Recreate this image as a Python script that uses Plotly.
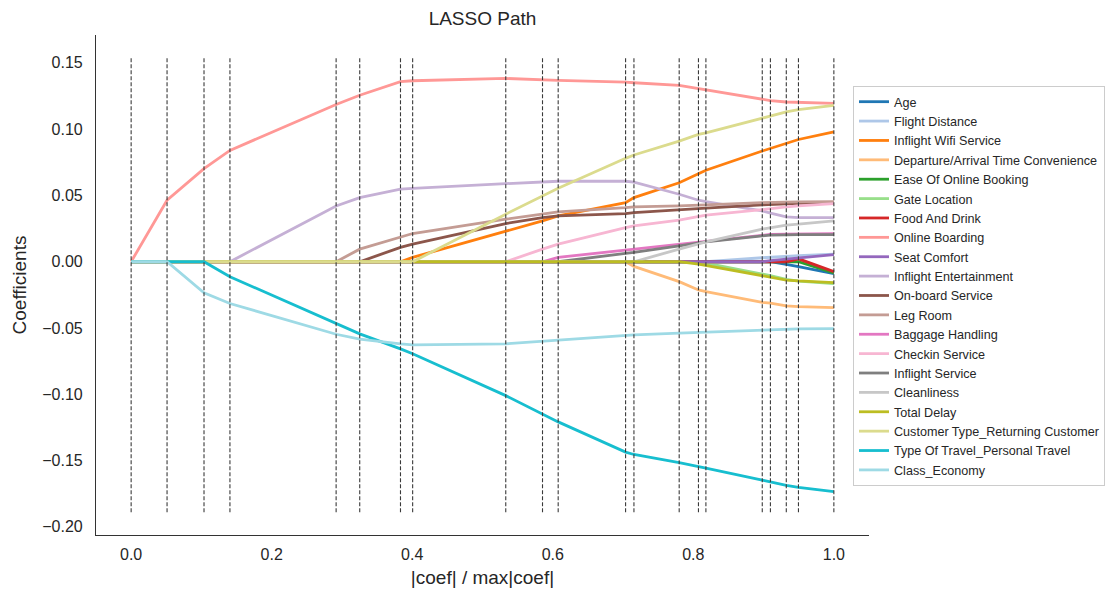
import plotly.graph_objects as go

# Breakpoints of the LARS-lasso path (|coef| / max|coef|)
alphas_x = [0.0, 0.0511, 0.1037, 0.1406, 0.2917, 0.3253, 0.3833, 0.4006, 0.5331, 0.5854, 0.6077,
            0.7036, 0.7155, 0.7799, 0.8073, 0.8179, 0.8981, 0.9097, 0.9323, 0.9496, 1.0]

features = ["Age", "Flight Distance", "Inflight Wifi Service", "Departure/Arrival Time Convenience",
            "Ease Of Online Booking", "Gate Location", "Food And Drink", "Online Boarding",
            "Seat Comfort", "Inflight Entertainment", "On-board Service", "Leg Room",
            "Baggage Handling", "Checkin Service", "Inflight Service", "Cleanliness",
            "Total Delay", "Customer Type_Returning Customer", "Type Of Travel_Personal Travel",
            "Class_Economy"]

age = [0, 0, 0, 0, 0, 0, 0, 0, 0, 0, 0, 0, 0, 0, 0, 0, 0, 0, -0.0020, -0.0036, -0.0090]
flight_distance = [0, 0, 0, 0, 0, 0, 0, 0, 0, 0, 0, 0, 0, 0, 0, 0, 0.0030, 0.0034, 0.0040, 0.0045, 0.0058]
inflight_wifi = [0, 0, 0, 0, 0, 0, 0, 0.0033, 0.0228, 0.0308, 0.0346, 0.0446, 0.0484, 0.0596, 0.0664,
                 0.0690, 0.0835, 0.0855, 0.0897, 0.0922, 0.0980]
dep_arr_time = [0, 0, 0, 0, 0, 0, 0, 0, 0, 0, 0, 0, -0.0035, -0.0150, -0.0213, -0.0226, -0.0306,
                -0.0313, -0.0333, -0.0338, -0.0346]
ease_online_booking = [0, 0, 0, 0, 0, 0, 0, 0, 0, 0, 0, 0, 0, 0, 0, 0, 0, 0, 0, 0, -0.0085]
gate_location = [0, 0, 0, 0, 0, 0, 0, 0, 0, 0, 0, 0, 0, 0, 0, -0.0010, -0.0092, -0.0105, -0.0133,
                 -0.0146, -0.0165]
food_drink = [0, 0, 0, 0, 0, 0, 0, 0, 0, 0, 0, 0, 0, 0, 0, 0, 0, 0, 0, 0.0022, -0.0075]
online_boarding = [0, 0.0464, 0.0702, 0.0840, 0.1186, 0.1256, 0.1358, 0.1365, 0.1383, 0.1372, 0.1368,
                   0.1355, 0.1350, 0.1330, 0.1306, 0.1296, 0.1223, 0.1216, 0.1205, 0.1203, 0.1195]
seat_comfort = [0, 0, 0, 0, 0, 0, 0, 0, 0, 0, 0, 0, 0, 0, 0, 0, 0, 0.0008, 0.0018, 0.0030, 0.0053]
inflight_ent = [0, 0, 0, 0, 0.0421, 0.0484, 0.0547, 0.0554, 0.0589, 0.0605, 0.0607, 0.0607, 0.0600,
                0.0509, 0.0464, 0.0453, 0.0383, 0.0366, 0.0338, 0.0333, 0.0333]
onboard_service = [0, 0, 0, 0, 0, 0, 0.0108, 0.0133, 0.0288, 0.0333, 0.0346, 0.0363, 0.0371, 0.0389,
                   0.0398, 0.0404, 0.0429, 0.0432, 0.0438, 0.0441, 0.0446]
leg_room = [0, 0, 0, 0, 0, 0.0095, 0.0188, 0.0213, 0.0321, 0.0363, 0.0376, 0.0408, 0.0414, 0.0421,
            0.0425, 0.0429, 0.0446, 0.0448, 0.0450, 0.0451, 0.0453]
baggage = [0, 0, 0, 0, 0, 0, 0, 0, 0, 0, 0.0033, 0.0088, 0.0095, 0.0133, 0.0150, 0.0158, 0.0203,
           0.0206, 0.0208, 0.0210, 0.0211]
checkin = [0, 0, 0, 0, 0, 0, 0, 0, 0, 0.0095, 0.0133, 0.0258, 0.0271, 0.0313, 0.0341, 0.0351, 0.0393,
           0.0401, 0.0414, 0.0421, 0.0439]
inflight_service = [0, 0, 0, 0, 0, 0, 0, 0, 0, 0, 0, 0.0063, 0.0070, 0.0120, 0.0143, 0.0150, 0.0195,
                    0.0200, 0.0203, 0.0205, 0.0205]
cleanliness = [0, 0, 0, 0, 0, 0, 0, 0, 0, 0, 0, 0, 0, 0.0095, 0.0133, 0.0150, 0.0246, 0.0258, 0.0276,
               0.0283, 0.0308]
total_delay = [0, 0, 0, 0, 0, 0, 0, 0, 0, 0, 0, 0, 0, 0, -0.0018, -0.0028, -0.0105, -0.0118, -0.0138,
               -0.0145, -0.0158]
customer_type = [0, 0, 0, 0, 0, 0, 0, 0, 0.0359, 0.0496, 0.0554, 0.0780, 0.0805, 0.0910, 0.0960,
                 0.0972, 0.1085, 0.1103, 0.1130, 0.1148, 0.1180]
type_travel = [0, 0, 0, -0.0113, -0.0469, -0.0544, -0.0657, -0.0694, -0.1010, -0.1145, -0.1208,
               -0.1436, -0.1454, -0.1516, -0.1544, -0.1556, -0.1647, -0.1662, -0.1687, -0.1702, -0.1734]
class_economy = [0, 0, -0.0234, -0.0315, -0.0547, -0.0583, -0.0619, -0.0627, -0.0619, -0.0599, -0.0589,
                 -0.0556, -0.0551, -0.0539, -0.0534, -0.0531, -0.0514, -0.0511, -0.0509, -0.0506, -0.0505]

coef_series = [age, flight_distance, inflight_wifi, dep_arr_time, ease_online_booking, gate_location,
               food_drink, online_boarding, seat_comfort, inflight_ent, onboard_service, leg_room,
               baggage, checkin, inflight_service, cleanliness, total_delay, customer_type,
               type_travel, class_economy]

colors = ["#1f77b4", "#aec7e8", "#ff7f0e", "#ffbb78", "#2ca02c", "#98df8a", "#d62728", "#ff9896",
          "#9467bd", "#c5b0d5", "#8c564b", "#c49c94", "#e377c2", "#f7b6d2", "#7f7f7f", "#c7c7c7",
          "#bcbd22", "#dbdb8d", "#17becf", "#9edae5"]

y_ticks = [-0.20, -0.15, -0.10, -0.05, 0.00, 0.05, 0.10, 0.15]
x_ticks = [0.0, 0.2, 0.4, 0.6, 0.8, 1.0]

FONT = "Liberation Sans, Arial, sans-serif"
TXT = "#262626"

fig = go.Figure()
for name, vals, col in zip(features, coef_series, colors):
    fig.add_trace(go.Scatter(x=alphas_x, y=vals, mode="lines", name=name,
                             line=dict(color=col, width=2.8)))

# dashed vertical lines at each breakpoint, spanning data extent with 5% margin
all_vals = [v for s in coef_series for v in s]
lo, hi = min(all_vals), max(all_vals)
pad = 0.05 * (hi - lo)
ymin, ymax = lo - pad, hi + pad
vx, vy = [], []
for b in alphas_x:
    vx += [b, b, None]
    vy += [ymin, ymax, None]
fig.add_trace(go.Scatter(x=vx, y=vy, mode="lines", showlegend=False, hoverinfo="skip",
                         line=dict(color="#3a3a3a", width=1.1, dash="4px,2px")))

span = ymax - ymin
fig.update_layout(
    width=1110, height=594,
    margin=dict(l=96, r=241, t=35, b=59, autoexpand=False),
    paper_bgcolor="white", plot_bgcolor="white",
    font=dict(family=FONT, color=TXT),
    title=dict(text="LASSO Path", x=(96 + 869) / 2 / 1110, xanchor="center", y=1 - 18 / 594,
               yanchor="middle", font=dict(size=19, color=TXT)),
    xaxis=dict(range=[-0.05, 1.05], tickvals=x_ticks, ticktext=[f"{t:.1f}" for t in x_ticks],
               showgrid=False, zeroline=False, showline=True, linecolor="#333333", linewidth=1.2,
               ticks="outside", ticklen=5, tickcolor="rgba(0,0,0,0)", tickfont=dict(size=16, color=TXT),
               automargin=False,
               title=dict(text="|coef| / max|coef|", font=dict(size=19, color=TXT), standoff=8)),
    yaxis=dict(range=[ymin - 0.05 * span, ymax + 0.05 * span], tickvals=y_ticks,
               ticktext=[f"{t:.2f}".replace("-", "\u2212") for t in y_ticks],
               showgrid=False, zeroline=False, showline=True, linecolor="#333333", linewidth=1.2,
               ticks="outside", ticklen=9, tickcolor="rgba(0,0,0,0)", tickfont=dict(size=16, color=TXT),
               automargin=False,
               title=dict(text="Coefficients", font=dict(size=19, color=TXT), standoff=10)),
    legend=dict(x=(853 - 96) / 773, xanchor="left", y=(535 - 86) / 500, yanchor="top",
                bgcolor="white", bordercolor="#cccccc", borderwidth=1,
                font=dict(size=12.6, color=TXT), itemwidth=30, tracegroupgap=0),
)

fig.write_html("out.html", config={"displayModeBar": False},
               post_script="document.body.style.margin='0';document.body.style.padding='0';")
